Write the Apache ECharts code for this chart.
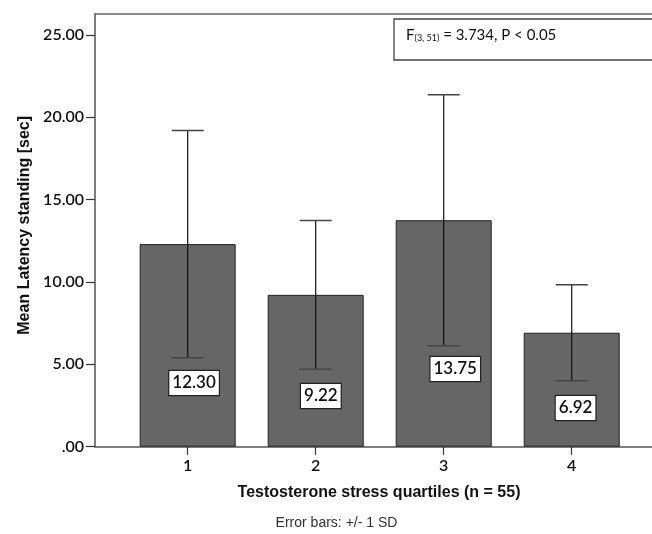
<!DOCTYPE html>
<html>
<head>
<meta charset="utf-8">
<script src="https://cdn.jsdelivr.net/npm/echarts@6/dist/echarts.min.js"></script>
<style>
html,body{margin:0;padding:0;background:#fff;}
#chart{width:652px;height:534px;}
</style>
</head>
<body>
<div id="chart"></div>
<script>
// Data
const categories = [1, 2, 3, 4];
const means = [12.30, 9.22, 13.75, 6.92];
const sds = [6.90, 4.52, 7.62, 2.91];
const yTicks = [0, 5, 10, 15, 20, 25];
// label box anchor (in data units) as placed in the original
const labelX = [1.05, 2.04, 3.09, 4.03];
const labelY = [3.87, 3.08, 4.72, 2.35];

const xTitle = 'Testosterone stress quartiles (n = 55)';
const yTitle = 'Mean Latency standing [sec]';
const footnote = 'Error bars: +/- 1 SD';

const chart = echarts.init(document.getElementById('chart'), null, {renderer: 'canvas'});

const barData = categories.map((c, i) => [c, means[i]]);
const errData = categories.map((c, i) => [c, means[i] - sds[i], means[i] + sds[i]]);
const lblData = categories.map((c, i) => [labelX[i], labelY[i], means[i]]);

const axisColor = '#555';
const tickFont = 'Lato, "Open Sans", sans-serif';

const option = {
  animation: false,
  backgroundColor: '#fff',
  grid: {left: 95, right: 0, top: 14, bottom: 87.3, containLabel: false},
  xAxis: [{
    type: 'value',
    min: 0.276,
    max: 4.627,
    position: 'bottom',
    splitLine: {show: false},
    axisLine: {show: true, onZero: false, lineStyle: {color: axisColor, width: 1.5}},
    axisTick: {show: true, customValues: categories, length: 8, inside: false, lineStyle: {color: '#333', width: 1.2}},
    axisLabel: {show: true, customValues: categories, margin: 11, color: '#111', fontFamily: tickFont, fontSize: 16, fontWeight: 600,
      formatter: v => String(v)},
    name: xTitle,
    nameLocation: 'middle',
    nameGap: 38,
    nameTextStyle: {fontFamily: '"Liberation Sans", Arial, sans-serif', fontWeight: 'bold', fontSize: 16, color: '#111',
      padding: [0, 0, 0, 11]}
  }, {
    type: 'value',
    min: 0.276,
    max: 4.627,
    position: 'top',
    splitLine: {show: false},
    axisLine: {show: true, onZero: false, lineStyle: {color: '#666', width: 1.5}},
    axisTick: {show: false},
    axisLabel: {show: false}
  }],
  yAxis: {
    type: 'value',
    min: 0,
    max: 26.27,
    splitLine: {show: false},
    axisLine: {show: true, onZero: false, lineStyle: {color: axisColor, width: 1.5}},
    axisTick: {show: true, customValues: yTicks, length: 9, lineStyle: {color: '#333', width: 1.2}},
    axisLabel: {customValues: yTicks, margin: 11, color: '#111', fontFamily: tickFont, fontSize: 16, fontWeight: 600,
      formatter: v => v === 0 ? '.00' : v.toFixed(2)},
    name: yTitle,
    nameLocation: 'middle',
    nameGap: 61,
    nameRotate: 90,
    nameTextStyle: {fontFamily: '"Liberation Sans", Arial, sans-serif', fontWeight: 'bold', fontSize: 16, color: '#111',
      padding: [0, 0, 0, 10]}
  },
  series: [{
    type: 'bar',
    data: barData,
    barWidth: 96,
    itemStyle: {color: '#666666', borderColor: '#222', borderWidth: 1},
    z: 2
  }, {
    type: 'custom',
    data: errData,
    z: 3,
    renderItem: function (params, api) {
      const x = api.value(0);
      const lo = api.coord([x, api.value(1)]);
      const hi = api.coord([x, api.value(2)]);
      const half = 16;
      const style = {stroke: '#111', lineWidth: 1.2};
      return {
        type: 'group',
        children: [
          {type: 'line', shape: {x1: lo[0], y1: lo[1], x2: hi[0], y2: hi[1]}, style: style},
          {type: 'line', shape: {x1: hi[0] - half, y1: hi[1], x2: hi[0] + half, y2: hi[1]}, style: {stroke: '#444', lineWidth: 1.5}},
          {type: 'line', shape: {x1: lo[0] - half, y1: lo[1], x2: lo[0] + half, y2: lo[1]}, style: {stroke: '#444', lineWidth: 1.5}}
        ]
      };
    }
  }, {
    type: 'scatter',
    data: lblData,
    symbolSize: 0,
    z: 4,
    itemStyle: {opacity: 1},
    label: {
      show: true,
      position: 'inside',
      formatter: p => p.value[2].toFixed(2),
      fontFamily: tickFont,
      fontSize: 17,
      fontWeight: 600,
      color: '#111',
      opacity: 1,
      backgroundColor: '#ffffff',
      borderColor: '#222',
      borderWidth: 1.2,
      padding: [4, 3, 3, 3]
    },
    emphasis: {disabled: true}
  }],
  graphic: [{
    type: 'rect',
    shape: {x: 394, y: 19, width: 270, height: 41},
    style: {fill: '#fff', stroke: '#444', lineWidth: 1.3},
    z: 10
  }, {
    type: 'text',
    left: 406,
    top: 28,
    z: 11,
    style: {
      text: '{m|F}{s|(3, 51)}{m| = 3.734, P < 0.05}',
      rich: {
        m: {fontFamily: tickFont, fontSize: 15, fill: '#111', verticalAlign: 'bottom'},
        s: {fontFamily: tickFont, fontSize: 9, fill: '#111', verticalAlign: 'bottom'}
      }
    }
  }, {
    type: 'text',
    x: 336.5,
    y: 523,
    z: 11,
    style: {
      text: footnote,
      fontFamily: '"Liberation Sans", Arial, sans-serif',
      fontSize: 14,
      fill: '#333',
      align: 'center',
      verticalAlign: 'middle'
    }
  }]
};

chart.setOption(option);
</script>
</body>
</html>
